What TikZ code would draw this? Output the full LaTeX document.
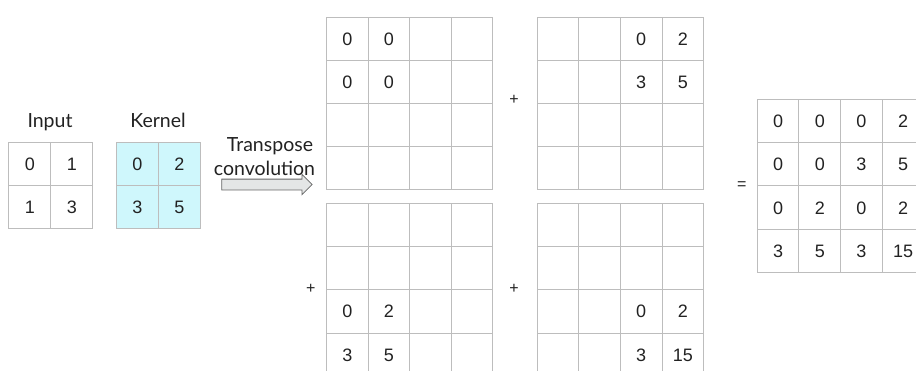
\documentclass[tikz,border=0pt]{standalone}
\usepackage{fontspec}
\setmainfont{Lato}
\newfontfamily\numfont{Liberation Sans}
\usetikzlibrary{matrix,shapes.arrows}
\definecolor{gridgray}{HTML}{BDBDBD}
\definecolor{kern}{HTML}{CFF7FC}
\definecolor{ink}{HTML}{222222}
\definecolor{arrowline}{HTML}{666666}
\definecolor{arrowfill}{HTML}{E4E6E6}
\begin{document}
\begin{tikzpicture}[x=1pt,y=-1pt,
  cell/.style={draw=gridgray, line width=1pt, minimum width=41.6pt, minimum height=43.1pt,
    inner sep=0pt, anchor=center, text height=13pt, text depth=0pt,
    font=\numfont\fontsize{18}{20}\selectfont, text=ink},
  grid/.style={matrix of nodes, nodes in empty cells, column sep=-1pt, row sep=-1pt,
    inner sep=0pt, outer sep=0pt, anchor=north west},
  lbl/.style={font=\fontsize{19.5}{23}\selectfont, text=ink, inner sep=0pt},
  op/.style={font=\numfont\fontsize{16}{18}\selectfont, text=ink, inner sep=0pt}]
\useasboundingbox (0,0) rectangle (916,370);
\clip (0,0) rectangle (916,370);

% labels
\node[lbl, anchor=base] (inputlbl) at (50,127.7) {Input};
\node[lbl, anchor=base] (kernellbl) at (158,127.7) {Kernel};

% input and kernel
\matrix[grid, nodes={cell, minimum width=42pt, minimum height=43pt}] (inp) at (8.3,141.7) {
0 & 1 \\
1 & 3 \\
};
\matrix[grid, nodes={cell, fill=kern, minimum width=42pt, minimum height=43pt}] (ker) at (116,141.7) {
0 & 2 \\
3 & 5 \\
};

% arrow
\node[single arrow, draw=arrowline, fill=arrowfill, line width=0.8pt,
  minimum height=90.5pt, inner sep=5pt, single arrow head extend=4.7pt] (arr) at (264.2,184.5) {};
\node[lbl, anchor=base] (tc1) at (270,151.7) {Transpose};
\node[lbl, anchor=base] (tc2) at (264.5,175) {convolution};

% partial grids
\matrix[grid, nodes={cell}] (g1) at (326,16.5) {
0 & 0 & & \\
0 & 0 & & \\
 & & & \\
 & & & \\
};
\matrix[grid, nodes={cell}] (g2) at (536.7,16.5) {
 & & 0 & 2 \\
 & & 3 & 5 \\
 & & & \\
 & & & \\
};
\matrix[grid, nodes={cell, minimum height=43.3pt}] (g3) at (326,202.7) {
 & & & \\
 & & & \\
0 & 2 & & \\
3 & 5 & & \\
};
\matrix[grid, nodes={cell, minimum height=43.3pt}] (g4) at (536.7,202.7) {
 & & & \\
 & & & \\
 & & 0 & 2 \\
 & & 3 & 15 \\
};

% result
\matrix[grid, nodes={cell, minimum width=41.7pt, minimum height=43.2pt}] (res) at (756.7,99) {
0 & 0 & 0 & 2 \\
0 & 0 & 3 & 5 \\
0 & 2 & 0 & 2 \\
3 & 5 & 3 & 15 \\
};

% operators
\node[op] (p1) at (514,100) {+};
\node[op] (p2) at (310.7,289) {+};
\node[op] (p3) at (514,289) {+};
\node[op] (eq) at (741.7,186) {=};
\end{tikzpicture}
\end{document}
